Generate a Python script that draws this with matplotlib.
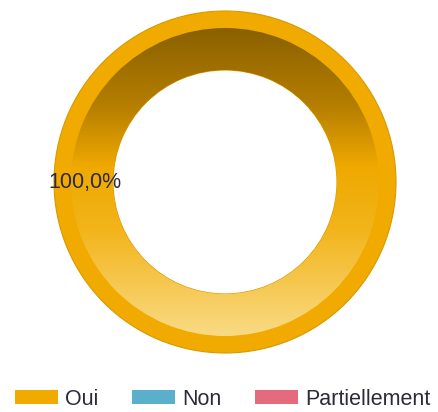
import matplotlib
matplotlib.use("Agg")
import matplotlib.pyplot as plt
import numpy as np
from matplotlib.patches import Wedge
from matplotlib.colors import LinearSegmentedColormap

categories = ["Oui", "Non", "Partiellement"]
values = [100, 0, 0]
colors = ["#F0AA00", "#5AAFCB", "#E46A7E"]

W, H = 438, 412
R = 171.0
cx, cy = 225.0, 230.0  # centre en pixels (depuis le bas)

fig = plt.figure(figsize=(W / 100, H / 100), dpi=100)
ax = fig.add_axes([0, 0, 1, 1])

def fmt(p):
    return f"{p:.1f}%".replace(".", ",") if p > 0 else ""

wedges, texts, autotexts = ax.pie(
    values, colors=colors, radius=1, startangle=0, autopct=fmt,
    pctdistance=0.82,
    wedgeprops=dict(width=(R - 112) / R, edgecolor="#D89A00", linewidth=0.8),
    textprops=dict(fontsize=15.5, family="Liberation Sans", color="#2E2A3A"),
)
for w, v in zip(wedges, values):
    if v == 0:
        w.set_linewidth(0)
for t in autotexts:
    t.set_zorder(5)

# degrade vertical sur la bande interieure
grad = LinearSegmentedColormap.from_list(
    "g", [(0.0, "#F9DA84"), (0.12, "#F7CD60"), (0.35, "#F2B419"),
          (0.55, "#EFA900"), (0.75, "#B57E00"), (1.0, "#8A6000")])
yy = np.linspace(0, 1, 256).reshape(-1, 1)
r_out = 154 / R
im = ax.imshow(yy, cmap=grad, origin="lower", extent=(-r_out, r_out, -r_out, r_out),
               aspect="auto", zorder=2, interpolation="bilinear")
band = Wedge((0, 0), r_out, 0, 360, width=r_out - 112 / R, facecolor="none", edgecolor="none")
ax.add_patch(band)
im.set_clip_path(band)

ax.set_xlim(-cx / R, (W - cx) / R)
ax.set_ylim(-cy / R, (H - cy) / R)
ax.set_aspect("equal")
ax.axis("off")

leg = ax.legend(wedges, categories, loc="lower center", bbox_to_anchor=(0.508, -0.015),
                ncol=3, frameon=False, prop=dict(family="Liberation Sans", size=15.5),
                handlelength=2.0, handleheight=0.6, handletextpad=0.33, columnspacing=1.55,
                borderaxespad=0.0, labelcolor="#2E2A3A")
for h in leg.legend_handles:
    h.set_linewidth(0)

fig.savefig("out.png", dpi=100, facecolor="white")
